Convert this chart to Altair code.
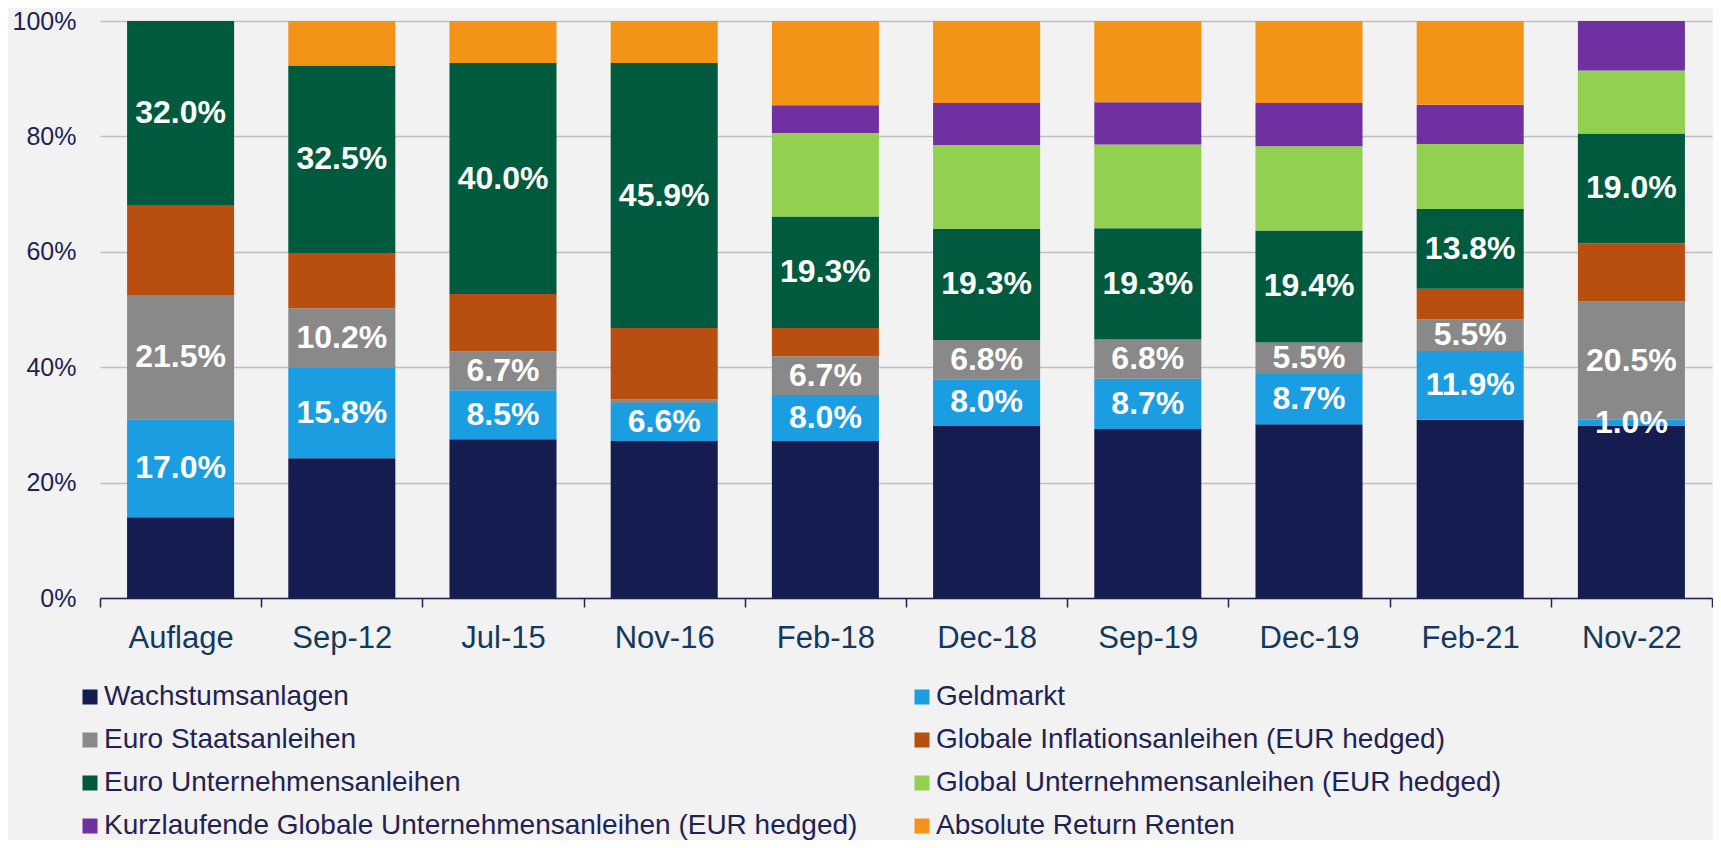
import altair as alt
import pandas as pd

FONT = "Liberation Sans"
NAVY_TXT = "#1F2354"
XLAB = "#14395E"

dates = ["Auflage", "Sep-12", "Jul-15", "Nov-16", "Feb-18", "Dec-18",
         "Sep-19", "Dec-19", "Feb-21", "Nov-22"]

names = [
    "Wachstumsanlagen",
    "Geldmarkt",
    "Euro Staatsanleihen",
    "Globale Inflationsanleihen (EUR hedged)",
    "Euro Unternehmensanleihen",
    "Global Unternehmensanleihen (EUR hedged)",
    "Kurzlaufende Globale Unternehmensanleihen (EUR hedged)",
    "Absolute Return Renten",
]
colors = ["#151C4F", "#1B9DE2", "#898989", "#B84F11",
          "#005A3E", "#92D050", "#7030A0", "#F39318"]

wachstum = [14.0, 24.2, 27.5, 27.2, 27.2, 29.9, 29.3, 30.1, 30.9, 29.9]
geldmarkt = [17.0, 15.8, 8.5, 6.6, 8.0, 8.0, 8.7, 8.7, 11.9, 1.0]
staats = [21.5, 10.2, 6.7, 0.6, 6.7, 6.8, 6.8, 5.5, 5.5, 20.5]
inflation = [15.5, 9.6, 10.0, 12.4, 4.9, 0.0, 0.0, 0.0, 5.3, 10.1]
unternehmen = [32.0, 32.5, 40.0, 45.9, 19.3, 19.3, 19.3, 19.4, 13.8, 19.0]
global_unt = [0.0, 0.0, 0.0, 0.0, 14.5, 14.5, 14.5, 14.6, 11.3, 10.9]
kurz = [0.0, 0.0, 0.0, 0.0, 4.8, 7.3, 7.3, 7.5, 6.8, 8.6]
absolute = [0.0, 7.7, 7.3, 7.3, 14.6, 14.2, 14.1, 14.2, 14.5, 0.0]

labelled = ["Geldmarkt", "Euro Staatsanleihen", "Euro Unternehmensanleihen"]

all_vals = [wachstum, geldmarkt, staats, inflation, unternehmen,
            global_unt, kurz, absolute]

rows = []
for i, d in enumerate(dates):
    for k, (name, vals) in enumerate(zip(names, all_vals)):
        if vals[i] > 0:
            rows.append({"date": d, "series": name, "value": vals[i], "order": k})
df = pd.DataFrame(rows)

x_enc = alt.X("date:N", sort=dates, title=None,
              scale=alt.Scale(paddingInner=0, paddingOuter=0))

bars = alt.Chart(df).mark_bar(width=alt.RelativeBandSize(0.664)).encode(
    x=x_enc,
    y=alt.Y("value:Q", stack="zero", title=None,
            scale=alt.Scale(domain=[0, 100], nice=False)),
    color=alt.Color("series:N", sort=names,
                    scale=alt.Scale(domain=names, range=colors),
                    legend=alt.Legend(title=None)),
    order=alt.Order("order:Q", sort="ascending"),
)

filt = " || ".join([f"datum.series == '{s}'" for s in labelled])
texts = alt.Chart(df).transform_stack(
    stack="value", groupby=["date"], as_=["y0", "y1"],
    sort=[alt.SortField("order", "ascending")],
).transform_calculate(
    mid="(datum.y0 + datum.y1) / 2",
    label="format(datum.value, '.1f') + '%'",
).transform_filter(
    f"({filt}) && datum.value >= 1"
).mark_text(font=FONT, fontSize=32, fontWeight="bold", color="white",
            baseline="middle", align="center").encode(
    x=x_enc,
    y=alt.Y("mid:Q", title=None),
    text="label:N",
)

chart = alt.layer(bars, texts).properties(
    width=1612, height=577,
    padding={"left": 92, "top": 13, "right": 1, "bottom": 242},
    autosize=alt.AutoSizeParams(type="none"),
    background="#F2F2F2",
).configure_view(stroke=None).configure_axisX(
    labelAngle=0, labelFont=FONT, labelFontSize=31, labelColor=XLAB,
    labelPadding=16, tickBand="extent", tickSize=9, tickWidth=1.5,
    tickColor=NAVY_TXT, domainColor=NAVY_TXT, domainWidth=1.5, grid=False,
).configure_axisY(
    labelFont=FONT, labelFontSize=25, labelColor=NAVY_TXT, labelPadding=24,
    ticks=False, domain=False, grid=True, gridColor="#BFBFBF", gridWidth=1.5,
    tickCount=5, labelExpr="datum.value + '%'",
).configure_legend(
    orient="none", legendX=-24, legendY=662, columns=2, direction="horizontal",
    symbolType="square", symbolSize=225, symbolStrokeWidth=0,
    labelFont=FONT, labelFontSize=28, labelColor=NAVY_TXT, labelOffset=0,
    labelLimit=1000, rowPadding=15, columnPadding=50, padding=0,
)

chart.save("out.html", embed_options={"renderer": "svg", "actions": False})
